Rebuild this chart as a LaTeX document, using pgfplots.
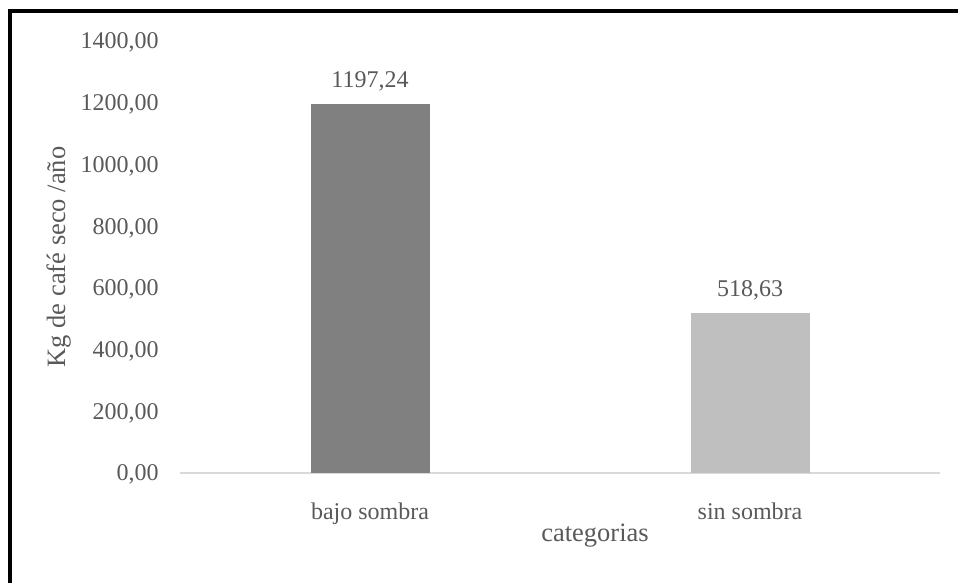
\documentclass[border=0pt]{standalone}
\usepackage{fontspec}
\setmainfont{Liberation Serif}
\usepackage{pgfplots}
\pgfplotsset{compat=1.18}
\definecolor{txt}{HTML}{595959}
\definecolor{barA}{HTML}{808080}
\definecolor{barB}{HTML}{BFBFBF}
\definecolor{axisgray}{HTML}{D9D9D9}
\begin{document}
\begin{tikzpicture}
\useasboundingbox (0,0) rectangle (479pt,291.5pt);
% frame of the chart area (only left and top edges visible)
\draw[line width=2pt, black] (5pt,-2pt) -- (5pt,285.75pt) -- (482pt,285.75pt);
\begin{axis}[
  at={(90pt,55pt)}, anchor=south west,
  scale only axis,
  width=380pt, height=216pt,
  xmin=-0.5, xmax=1.5,
  ymin=0, ymax=1400,
  ytick={0,200,...,1400},
  xtick={0,1},
  xticklabels={bajo sombra, sin sombra},
  axis x line*=bottom,
  axis y line*=left,
  y axis line style={draw=none},
  x axis line style={draw=axisgray, line width=1pt},
  tick style={draw=none},
  /pgf/number format/assume math mode=true,
  yticklabel={\mbox{\fontsize{12}{14}\selectfont\pgfmathprintnumber[fixed, fixed zerofill, precision=2, use comma, 1000 sep={}]{\tick}}},
  yticklabel style={text=txt, anchor=base east, inner ysep=0pt, inner xsep=10.5pt, yshift=-4pt},
  xticklabel style={font=\fontsize{12}{14}\selectfont, text=txt, anchor=base, inner sep=0pt, yshift=-19pt},
  ylabel={Kg de café seco /año},
  xlabel={categorias},
  ylabel style={font=\fontsize{13.25}{15}\selectfont, text=txt, at={(axis description cs:-0.1513,0.5)}, anchor=base},
  xlabel style={font=\fontsize{13.25}{15}\selectfont, text=txt, at={(axis description cs:0.546,-0.1597)}, anchor=base},
  ybar, bar width=59.5pt, bar shift=0pt,
  nodes near coords,
  every node near coord/.append style={font=\fontsize{12}{14}\selectfont, text=txt, anchor=base, inner sep=0pt, yshift=8pt,
    /pgf/number format/.cd, fixed, fixed zerofill, precision=2, use comma, 1000 sep={}},
]
\addplot[draw=none, fill=barA] coordinates {(0,1197.24)};
\addplot[draw=none, fill=barB] coordinates {(1,518.63)};
\end{axis}
\end{tikzpicture}
\end{document}
